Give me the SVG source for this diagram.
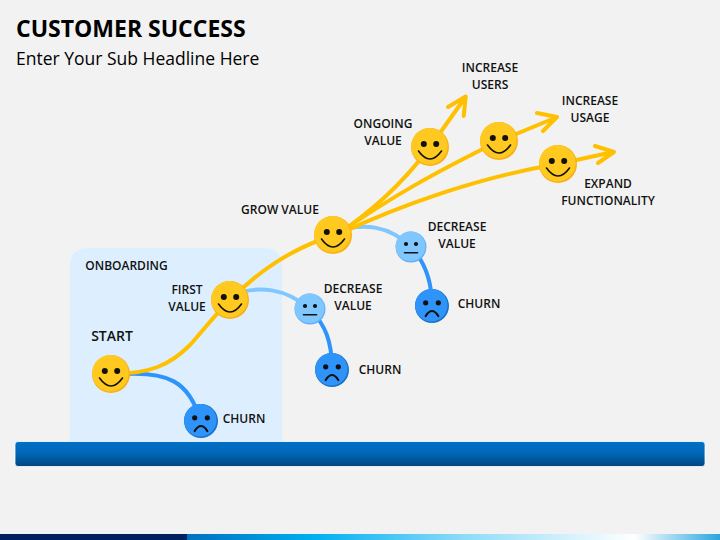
<svg xmlns="http://www.w3.org/2000/svg" width="720" height="540" viewBox="0 0 720 540">
<style>
text{font-family:"Open Sans","Liberation Sans",sans-serif;font-weight:600;font-size:12px;fill:#111;text-anchor:middle}
.gold{fill:none;stroke:#FFC000;stroke-width:4;stroke-linecap:round;stroke-linejoin:round}
.light{fill:none;stroke:#80C6FF;stroke-width:4}
.blue{fill:none;stroke:#2E94FA;stroke-width:4}
.f{fill:#111}
.m{fill:none;stroke:#111;stroke-linecap:round}
</style>
<defs>
<linearGradient id="bar" x1="0" y1="0" x2="0" y2="1"><stop offset="0" stop-color="#0070C8"/><stop offset="0.45" stop-color="#0068B8"/><stop offset="1" stop-color="#00457F"/></linearGradient>
<linearGradient id="strip" x1="0" y1="0" x2="1" y2="0"><stop offset="0" stop-color="#0070C0"/><stop offset="0.24" stop-color="#00B0F0"/><stop offset="0.52" stop-color="#8FDBF7"/><stop offset="0.84" stop-color="#FFFFFF"/><stop offset="1" stop-color="#2AA5DE"/></linearGradient>
<g id="smile"><circle r="19" fill="#F9B016"/><circle cx="-0.6" cy="-0.8" r="18.2" fill="#FFC91F"/><circle class="f" cx="-6.2" cy="-3" r="3"/><circle class="f" cx="6.2" cy="-3" r="3"/><path class="m" stroke-width="1.6" d="M-11.5,4Q0,20 11.5,4"/></g>
<g id="neutral"><circle r="15.5" fill="#62B1F5"/><circle cx="-0.5" cy="-0.6" r="14.8" fill="#80C6FF"/><circle class="f" cx="-5" cy="-3" r="2.1"/><circle class="f" cx="5" cy="-3" r="2.1"/><path class="m" stroke-width="1.6" d="M-6.5,5.7H6.5"/></g>
<g id="sad"><circle r="17" fill="#1A72C4"/><circle cx="-0.7" cy="-0.7" r="16.2" fill="#2E94FA"/><circle class="f" cx="-6.3" cy="-3.2" r="2.6"/><circle class="f" cx="6.3" cy="-3.2" r="2.6"/><path class="m" stroke-width="2.2" d="M-6.3,10Q0,0 6.3,10"/></g>
</defs>
<rect width="720" height="540" fill="#F2F2F2"/>
<text x="16" y="37" style="font-weight:700;font-size:23px;text-anchor:start;fill:#000">CUSTOMER SUCCESS</text>
<text x="16" y="65" style="font-weight:400;font-size:17.5px;text-anchor:start;fill:#000">Enter Your Sub Headline Here</text>
<g id="onboarding"><path d="M70,442V266Q70,248 88,248H264Q282,248 282,266V442Z" fill="#DDEFFF"/><text x="126.500" y="270">ONBOARDING</text></g>
<g id="base"><rect x="15" y="441.500" width="690" height="25" rx="3" fill="url(#bar)" stroke="#FFF" stroke-width="0.800"/></g>
<g id="footer"><rect x="0" y="534" width="188" height="6" fill="#002060"/><rect x="187" y="534" width="533" height="6" fill="url(#strip)"/></g>
<g id="connectors">
<path class="blue" d="M125,374C165,372 190,380 200,421"/>
<path class="light" d="M230,295C260,285 285,288 310,309"/>
<path class="blue" d="M310,309C325,325 332,340 332,370"/>
<path class="light" d="M333,232C365,222 390,226 411,247"/>
<path class="blue" d="M411,247C425,262 432,280 432,306"/>
<path class="gold" d="M111,374C150,374 170,365 190,345C205,328 215,315 230,300C260,270 290,250 333,235"/>
<path class="gold" d="M333,238C370,212 400,187 430,147L465.500,97M448,107L465.700,96.500L463.700,116"/>
<path class="gold" d="M337,235C390,197 440,170 499,141L556,117.500M537,113L557,117L543,131"/>
<path class="gold" d="M337,235C400,205 480,177 558,164L613,152M595,146L614,152L598,163"/>
</g>
<g id="start"><use href="#smile" x="111" y="374"/><text x="112" y="341" style="font-size:14px">START</text></g>
<g id="first-value"><use href="#smile" x="230" y="300"/><text x="187" y="294">FIRST</text><text x="187" y="311">VALUE</text></g>
<g id="grow-value"><use href="#smile" x="333" y="235"/><text x="280" y="214">GROW VALUE</text></g>
<g id="ongoing-value"><use href="#smile" x="430" y="147"/><text x="383" y="128">ONGOING</text><text x="383" y="145">VALUE</text></g>
<g id="increase-users"><use href="#smile" x="499" y="141"/><text x="490" y="72">INCREASE</text><text x="490" y="89">USERS</text></g>
<g id="increase-usage"><text x="590" y="105">INCREASE</text><text x="590" y="122">USAGE</text></g>
<g id="expand-functionality"><use href="#smile" x="558" y="164"/><text x="608" y="188">EXPAND</text><text x="608" y="205">FUNCTIONALITY</text></g>
<g id="decrease-1"><use href="#neutral" x="310" y="309"/><text x="353" y="293">DECREASE</text><text x="353" y="310">VALUE</text></g>
<g id="decrease-2"><use href="#neutral" x="411" y="247"/><text x="457" y="231">DECREASE</text><text x="457" y="248">VALUE</text></g>
<g id="churn-1"><use href="#sad" x="201" y="421"/><text x="244" y="423">CHURN</text></g>
<g id="churn-2"><use href="#sad" x="332" y="370"/><text x="380" y="374">CHURN</text></g>
<g id="churn-3"><use href="#sad" x="432" y="306"/><text x="479" y="308">CHURN</text></g>
</svg>
